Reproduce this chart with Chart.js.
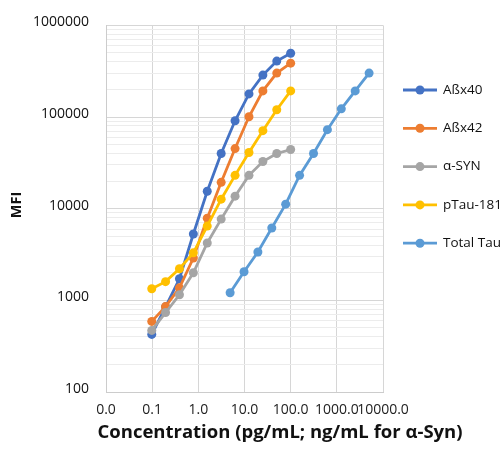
<!DOCTYPE html>
<html>
<head>
<meta charset="utf-8">
<script src="https://cdn.jsdelivr.net/npm/chart.js@4.4.1/dist/chart.umd.min.js"></script>
<style>
  html, body { margin: 0; padding: 0; background: #fff; }
  #wrap { width: 504px; height: 451px; }
</style>
</head>
<body>
<div id="wrap"><canvas id="chart" width="504" height="451"></canvas></div>
<script>
// dilution series (pg/mL, ng/mL for α-Syn)
const conc = [0.098, 0.195, 0.39, 0.78, 1.56, 3.125, 6.25, 12.5, 25, 50, 100];
const tauConc = [4.88, 9.77, 19.5, 39, 78, 156, 312.5, 625, 1250, 2500, 5000];

const seriesNames = ['Aßx40', 'Aßx42', 'α-SYN', 'pTau-181', 'Total Tau'];
const abx40 = [425, 850, 1720, 5300, 15500, 40000, 91000, 179000, 287000, 408000, 497000];
const abx42 = [589, 855, 1370, 2900, 7890, 19400, 45300, 100700, 193000, 302000, 387000];
const aSyn = [470, 736, 1150, 2000, 4230, 7700, 13700, 23100, 32700, 40000, 44200];
const pTau181 = [1340, 1600, 2210, 3300, 6460, 12700, 23100, 41000, 71000, 120000, 193000];
const totalTau = [1210, 2050, 3370, 6150, 11200, 23100, 40000, 72800, 123000, 193000, 302000];

const xTicks = [0.01, 0.1, 1, 10, 100, 1000, 10000];
const yDecades = [100, 1000, 10000, 100000, 1000000];

const colors = ['#4472C4', '#ED7D31', '#A5A5A5', '#FFC000', '#5B9BD5'];
const FONT = '"Open Sans", "Liberation Sans", sans-serif';

const toPoints = (xs, ys) => xs.map((x, i) => ({ x: x, y: ys[i] }));

const makeSet = (i, xs, ys) => ({
    label: seriesNames[i],
    data: toPoints(xs, ys),
    borderColor: colors[i],
    backgroundColor: colors[i],
    borderWidth: 2.8,
    pointRadius: 4.5,
    pointHoverRadius: 4.5,
    pointBorderWidth: 0,
    tension: 0,
    // later series sit on top
    order: 4 - i,
});

// light lines between the decades
const yMinor = [];
yDecades.slice(0, -1).forEach(d => {
    for (let k = 1; k < 10; k++) yMinor.push(d * k);
});
yMinor.push(1000000);

// axis titles and the legend column on the right
const sideText = {
    id: 'sideText',
    afterDraw(chart) {
        const ctx = chart.ctx;
        ctx.save();
        ctx.fillStyle = '#111';
        ctx.font = 'bold 18.5px ' + FONT;
        ctx.textAlign = 'center';
        ctx.textBaseline = 'middle';
        ctx.fillText('Concentration (pg/mL; ng/mL for α-Syn)', 280, 433);

        ctx.translate(17, 205);
        ctx.rotate(-Math.PI / 2);
        ctx.font = 'bold 14.5px ' + FONT;
        ctx.fillText('MFI', 0, 0);
        ctx.restore();

        ctx.save();
        chart.data.datasets.forEach((ds, i) => {
            const y = 90 + i * 38.3;
            ctx.strokeStyle = ds.borderColor;
            ctx.lineWidth = 2.8;
            ctx.beginPath();
            ctx.moveTo(403, y);
            ctx.lineTo(437, y);
            ctx.stroke();
            ctx.fillStyle = ds.borderColor;
            ctx.beginPath();
            ctx.arc(420, y, 4.5, 0, Math.PI * 2);
            ctx.fill();
            ctx.fillStyle = '#111';
            ctx.font = '13.5px ' + FONT;
            ctx.textAlign = 'left';
            ctx.textBaseline = 'middle';
            ctx.fillText(ds.label, 443, y);
        });
        ctx.restore();
    }
};

new Chart(document.getElementById('chart'), {
    type: 'line',
    data: {
        datasets: [
            makeSet(0, conc, abx40),
            makeSet(1, conc, abx42),
            makeSet(2, conc, aSyn),
            makeSet(3, conc, pTau181),
            makeSet(4, tauConc, totalTau),
        ]
    },
    options: {
        responsive: false,
        animation: false,
        layout: { padding: { top: 23, right: 121, left: 0, bottom: 0 } },
        plugins: {
            legend: { display: false },
            tooltip: { enabled: false },
        },
        scales: {
            x: {
                type: 'logarithmic',
                min: 0.01,
                max: 10000,
                afterBuildTicks: (scale) => {
                    scale.ticks = xTicks.map(v => ({ value: v }));
                },
                afterFit: (scale) => { scale.height = 59; },
                ticks: {
                    autoSkip: false,
                    maxRotation: 0,
                    minRotation: 0,
                    padding: 10,
                    color: '#222',
                    font: { family: FONT, size: 14 },
                    callback: (v) => Number(v).toFixed(1),
                },
                grid: { color: '#d6d6d6', lineWidth: 1, drawTicks: false },
                border: { color: '#cccccc' },
            },
            y: {
                type: 'logarithmic',
                min: 100,
                max: 1000000,
                afterBuildTicks: (scale) => {
                    scale.ticks = yMinor.map(v => ({ value: v }));
                },
                afterFit: (scale) => { scale.width = 106; },
                ticks: {
                    autoSkip: false,
                    padding: 17,
                    labelOffset: -3,
                    color: '#111',
                    font: { family: FONT, size: 14 },
                    callback: (v) => yDecades.includes(v) ? String(v) : '',
                },
                grid: {
                    drawTicks: false,
                    color: (c) => (c.tick && yDecades.includes(c.tick.value)) ? '#d6d6d6' : '#ececec',
                    lineWidth: 1,
                },
                border: { color: '#cccccc' },
            }
        }
    },
    plugins: [sideText],
});
</script>
</body>
</html>
